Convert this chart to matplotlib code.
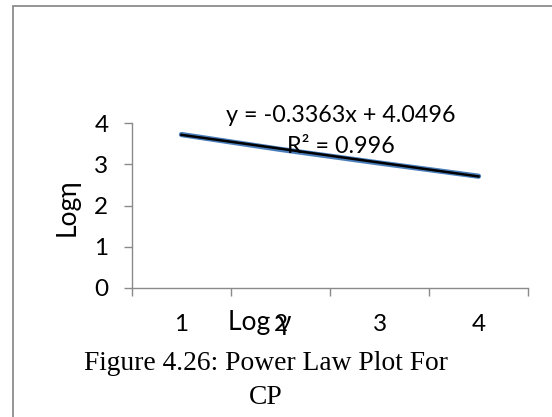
import matplotlib
matplotlib.use("Agg")
import matplotlib.pyplot as plt
from matplotlib.patches import Rectangle
import numpy as np

# Data
categories = [1, 2, 3, 4]
log_eta = [3.72, 3.36, 3.03, 2.71]
slope = -0.3363
intercept = 4.0496
equation_text = "y = -0.3363x + 4.0496"
r2_text = "R² = 0.996"
y_ticks = [0, 1, 2, 3, 4]
caption_line1 = "Figure 4.26: Power Law Plot For"
caption_line2 = "CP"

W, H = 552, 417
fig = plt.figure(figsize=(W / 100, H / 100), dpi=100)
sans = ["Lato", "DejaVu Sans"]
serif = ["Liberation Serif", "DejaVu Serif"]

# Outer frame (extends past right / bottom edges)
fig.patches.append(Rectangle((13 / W, -0.1), 1.2, (H - 6) / H + 0.1,
                             transform=fig.transFigure, fill=False,
                             edgecolor="#8c8c8c", linewidth=1.3))

left, right, bottom_px, top_px = 132, 528, 288, 123
ax = fig.add_axes([left / W, (H - bottom_px) / H, (right - left) / W,
                   (bottom_px - top_px) / H])

x = np.array(categories, dtype=float)
ax.plot(x, log_eta, color="#4A7EBB", linewidth=3.8, solid_capstyle="round", zorder=2)
trend = slope * x + intercept
ax.plot(x, trend, color="black", linewidth=1.8, zorder=3)

ax.set_xlim(0.5, 4.5)
ax.set_ylim(0, 4)

for s in ["top", "right"]:
    ax.spines[s].set_visible(False)
for s in ["left", "bottom"]:
    ax.spines[s].set_color("#8a8a8a")
    ax.spines[s].set_linewidth(1.0)

ax.set_xticks(np.arange(0.5, 4.6, 1.0))
ax.set_xticklabels([])
ax.set_xticks(categories, minor=True)
ax.set_xticklabels([str(c) for c in categories], minor=True, fontfamily=sans, fontsize=17.5)
ax.tick_params(axis="x", which="major", direction="out", length=6, width=1.0, color="#8a8a8a")
ax.tick_params(axis="x", which="minor", length=0, pad=19)

ax.set_yticks(y_ticks)
ax.set_yticklabels([str(v) for v in y_ticks], fontfamily=sans, fontsize=17.5)
ax.tick_params(axis="y", direction="out", length=6, width=1.0, color="#8a8a8a", pad=11)

ax.set_ylabel("Logη", fontfamily=sans, fontsize=19)
ax.yaxis.set_label_coords(-0.132, 0.49)
ax.set_xlabel("Log γ", fontfamily=sans, fontsize=19)
ax.xaxis.set_label_coords(0.322, -0.135)

ax.text(0.528, 1.048, equation_text, transform=ax.transAxes, ha="center", va="center",
        fontfamily=sans, fontsize=16.8)
ax.text(0.528, 0.855, r2_text, transform=ax.transAxes, ha="center", va="center",
        fontfamily=sans, fontsize=16.8)

fig.text(266 / W, 1 - 363 / H, caption_line1, ha="center", va="center",
         fontfamily=serif, fontsize=19.8)
fig.text(266 / W, 1 - 397 / H, caption_line2, ha="center", va="center",
         fontfamily=serif, fontsize=19.8)

fig.savefig("out.png", dpi=100)
